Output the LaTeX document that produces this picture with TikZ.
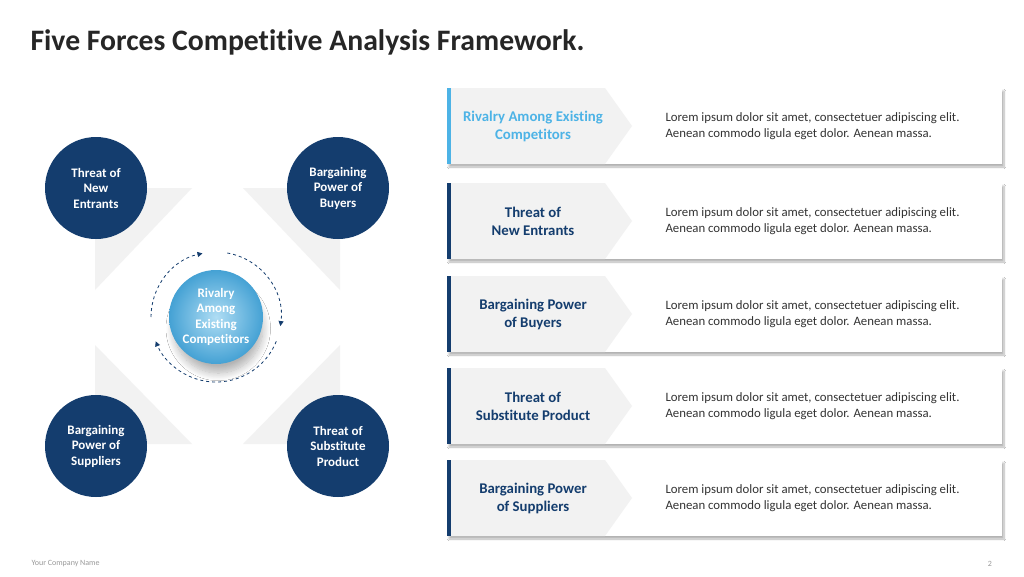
\documentclass[tikz,border=0pt]{standalone}
\usepackage{fontspec}
\setmainfont{Carlito}[Ligatures=NoCommon]
\usetikzlibrary{shadows.blur,arrows.meta}
\definecolor{navy}{HTML}{143D6E}
\definecolor{lblue}{HTML}{4DB3E6}
\definecolor{pgrey}{HTML}{F2F2F2}
\definecolor{tgrey}{HTML}{333333}
\begin{document}
\begin{tikzpicture}[x=1pt,y=-1pt,
  force/.style={circle,fill=navy,minimum size=102pt,inner sep=0pt,text=white,font=\bfseries\fontsize{13}{15.5}\selectfont,align=center},
  panel/.style={fill=white,draw=none,blur shadow={shadow xshift=2pt,shadow yshift=-3pt,shadow blur steps=8,shadow opacity=30}},
  lab/.style={font=\bfseries\fontsize{14.8}{18}\selectfont,align=center,text=navy},
  body/.style={font=\fontsize{12.8}{16}\selectfont,align=left,text=tgrey,anchor=west},
  cyc/.style={navy,dashed,thick,-{Triangle[length=5pt,width=5pt]}}]
\useasboundingbox (0,0) rectangle (1024,576);
\fill[white] (0,0) rectangle (1024,576);
\node[anchor=west,font=\bfseries\fontsize{29.7}{31}\selectfont,text=black!85] (title) at (27,42) {Five Forces Competitive Analysis Framework.};
% grey backdrop
\fill[pgrey] (95,188) -- (192,188) -- (95,290) -- cycle;
\fill[pgrey] (243,188) -- (340,188) -- (340,290) -- cycle;
\fill[pgrey] (95,345) -- (95,444) -- (192,444) -- cycle;
\fill[pgrey] (340,345) -- (340,444) -- (243,444) -- cycle;
% circles
\node[force] (ne) at (96,188) {Threat of\\New\\Entrants};
\node[force] (bb) at (338,188) {Bargaining\\Power of\\Buyers};
\node[force] (bs) at (96,446) {Bargaining\\Power of\\Suppliers};
\node[force] (ts) at (338,446) {Threat of\\Substitute\\Product};
\node[circle,minimum size=94pt,inner sep=0pt,inner color=lblue!45,outer color=lblue!85!navy,
  blur shadow={shadow yshift=-12pt,shadow scale=0.95,shadow blur steps=12,shadow blur radius=8pt,shadow opacity=30},
  text=white,font=\bfseries\fontsize{13}{15.5}\selectfont,align=center] (c) at (216,317) {Rivalry\\Among\\Existing\\Competitors};
\draw[cyc] ([shift={(180:65)}]c.center) arc[start angle=180,end angle=258,radius=65];
\draw[cyc] ([shift={(-80:65)}]c.center) arc[start angle=-80,end angle=8,radius=65];
\draw[cyc] ([shift={(22:65)}]c.center) arc[start angle=22,end angle=158,radius=65];
% panels
\foreach \i/\y/\l/\bc/\tc in {1/88/{Rivalry Among Existing\\Competitors}/lblue/lblue,
  2/183/{Threat of\\New Entrants}/navy/navy,
  3/276/{Bargaining Power\\of Buyers}/navy/navy,
  4/368/{Threat of\\Substitute Product}/navy/navy,
  5/460/{Bargaining Power\\of Suppliers}/navy/navy}{
  \fill[panel] (447,\y) rectangle (1002,\y+76);
  \fill[pgrey] (450,\y) -- (605,\y) -- (632,\y+38) -- (605,\y+76) -- (450,\y+76) -- cycle;
  \fill[\bc] (447,\y) rectangle (450.5,\y+76);
  \node[lab,text=\tc] (l\i) at (533,\y+38) {\l};
  \node[body] (b\i) at (662,\y+38) {Lorem ipsum dolor sit amet, consectetuer adipiscing elit.\\Aenean commodo ligula eget dolor. Aenean massa.};
}
\node[font=\fontsize{8}{9}\selectfont,text=black!40,anchor=west] (co) at (28,564) {Your Company Name};
\node[font=\fontsize{8}{9}\selectfont,text=black!40] (pg) at (990,564) {2};
\end{tikzpicture}
\end{document}
